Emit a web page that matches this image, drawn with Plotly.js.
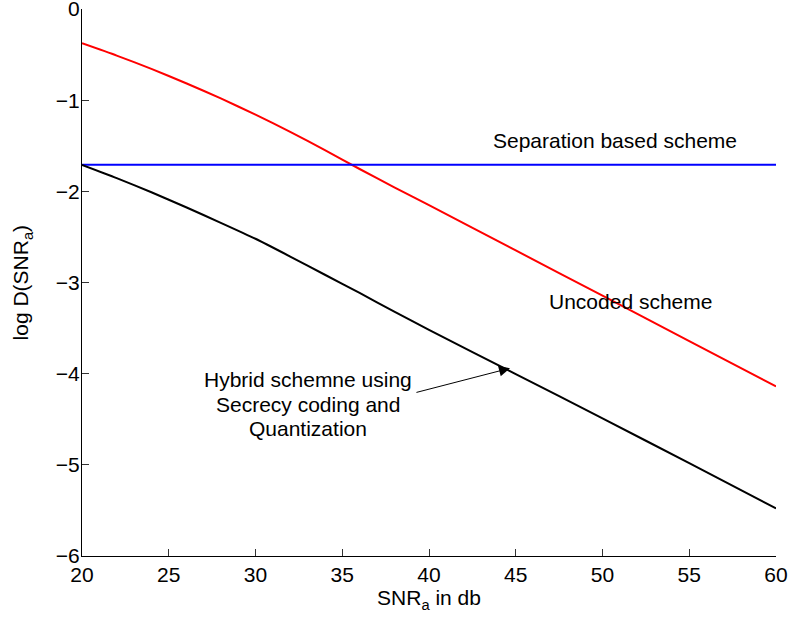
<!DOCTYPE html>
<html>
<head>
<meta charset="utf-8">
<script src="https://cdn.plot.ly/plotly-3.0.1.min.js"></script>
<style>html,body{margin:0;padding:0;background:#fff;}#chart{width:790px;height:624px;}</style>
</head>
<body>
<div id="chart"></div>
<script>
// SNR_a in dB
const snr = [20, 22, 24, 26, 28, 30, 32, 34, 36, 38, 40, 45, 50, 55, 60];
// Uncoded scheme
const uncoded = [-0.376, -0.511, -0.657, -0.814, -0.981, -1.159, -1.348, -1.548, -1.755, -1.957, -2.152, -2.648, -3.145, -3.643, -4.14];
// Hybrid scheme
const hybrid = [-1.71, -1.855, -2.01, -2.175, -2.345, -2.52, -2.715, -2.915, -3.115, -3.32, -3.52, -4.005, -4.49, -4.982, -5.478];
// Separation based scheme (constant)
const separationX = [20, 60];
const separation = [-1.708, -1.708];

const xTicks = [20, 25, 30, 35, 40, 45, 50, 55, 60];
const yTicks = [-6, -5, -4, -3, -2, -1, 0];

const font = {family: 'Liberation Sans, Arial, Helvetica, sans-serif', size: 21, color: '#000'};

const traces = [
  {x: snr, y: uncoded, mode: 'lines', line: {color: '#ff0000', width: 2, shape: 'spline', smoothing: 0.6}, hoverinfo: 'skip'},
  {x: separationX, y: separation, mode: 'lines', line: {color: '#0000ff', width: 2}, hoverinfo: 'skip'},
  {x: snr, y: hybrid, mode: 'lines', line: {color: '#000000', width: 2, shape: 'spline', smoothing: 0.6}, hoverinfo: 'skip'}
];

const layout = {
  width: 790, height: 624,
  margin: {l: 82, r: 14, t: 9, b: 68},
  paper_bgcolor: '#fff', plot_bgcolor: '#fff',
  showlegend: false,
  font: font,
  xaxis: {
    range: [20, 60], tickvals: xTicks, ticktext: xTicks.map(String),
    showline: true, linecolor: '#000', linewidth: 1, mirror: false,
    ticks: 'inside', ticklen: 7, tickcolor: '#333', tickwidth: 1,
    showgrid: false, zeroline: false, tickfont: font,
    title: {text: 'SNR<sub>a</sub> in db', font: font, standoff: 4}
  },
  yaxis: {
    range: [-6, 0], tickvals: yTicks,
    showline: true, linecolor: '#000', linewidth: 1, mirror: false,
    ticks: 'inside', ticklen: 7, tickcolor: '#333', tickwidth: 1,
    showgrid: false, zeroline: false, tickfont: font,
    ticklabeloverflow: 'allow', ticklabelstandoff: -3
  },
  annotations: [
    {x: -0.0865, y: 0.5, xref: 'paper', yref: 'paper', text: 'log D(SNR<sub>a</sub>)', textangle: -90,
     showarrow: false, font: font, xanchor: 'center', yanchor: 'middle'},
    {x: 50.72, y: -1.44, xref: 'x', yref: 'y', text: 'Separation based scheme', showarrow: false, font: font},
    {x: 51.6, y: -3.21, xref: 'x', yref: 'y', text: 'Uncoded scheme', showarrow: false, font: font},
    {x: 33.03, y: -4.069, xref: 'x', yref: 'y', text: 'Hybrid schemne using', showarrow: false, font: font},
    {x: 33.03, y: -4.335, xref: 'x', yref: 'y', text: 'Secrecy coding and', showarrow: false, font: font},
    {x: 33.03, y: -4.598, xref: 'x', yref: 'y', text: 'Quantization', showarrow: false, font: font},
    {x: 44.67, y: -3.94, xref: 'x', yref: 'y', ax: 39.19, ay: -4.21, axref: 'x', ayref: 'y',
     text: '', showarrow: true, arrowhead: 2, arrowsize: 2.2, arrowwidth: 1, arrowcolor: '#000'}
  ]
};

Plotly.newPlot('chart', traces, layout, {staticPlot: true, displayModeBar: false});
</script>
</body>
</html>
